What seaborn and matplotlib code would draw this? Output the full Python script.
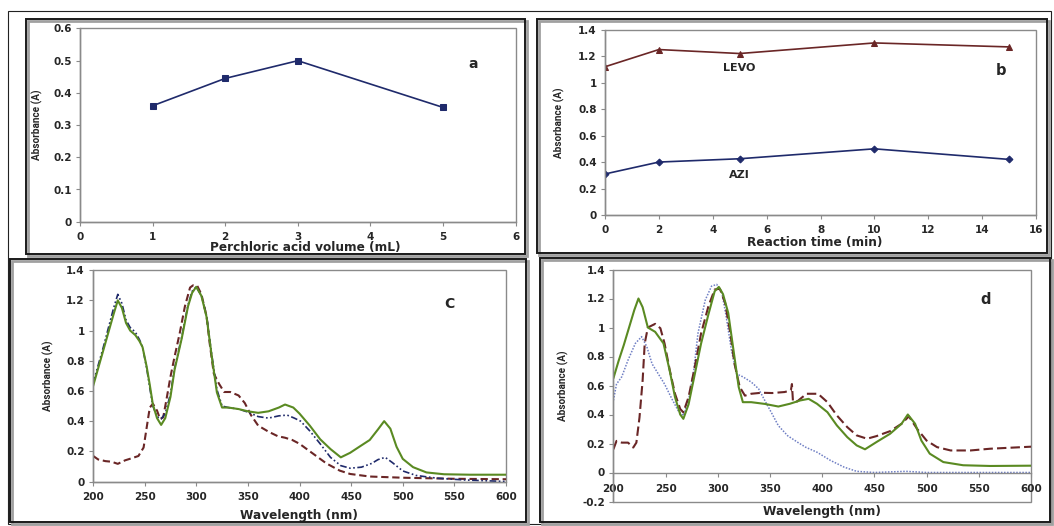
import matplotlib
matplotlib.use("Agg")
import matplotlib.pyplot as plt
from matplotlib.patches import Rectangle
from matplotlib.ticker import FuncFormatter, MultipleLocator
import seaborn as sns
import pandas as pd

# ---------------- data ----------------
# panel a
acid_volume = [1, 2, 3, 5]
acid_abs = [0.36, 0.445, 0.50, 0.355]

# panel b
time_min = [0, 2, 5, 10, 15]
levo_abs = [1.12, 1.25, 1.22, 1.30, 1.27]
azi_abs = [0.31, 0.40, 0.425, 0.50, 0.42]

# panel c spectra
c_green_nm = [200, 205, 210, 215, 220, 224, 228, 232, 236, 241, 245, 248, 252, 255, 258, 262, 266, 270, 275, 279,
              286, 292, 296, 300, 305, 310, 315, 320, 325, 331, 341, 350, 360, 370, 380, 386, 394, 400, 410, 420,
              430, 440, 449, 459, 468, 476, 482, 488, 494, 500, 510, 523, 540, 565, 600]
c_green_abs = [0.63, 0.75, 0.87, 0.99, 1.11, 1.20, 1.15, 1.05, 1.00, 0.97, 0.93, 0.89, 0.76, 0.64, 0.51, 0.42, 0.375,
               0.42, 0.56, 0.74, 0.95, 1.16, 1.25, 1.29, 1.23, 1.09, 0.83, 0.59, 0.49, 0.49, 0.48, 0.465, 0.455,
               0.465, 0.49, 0.51, 0.49, 0.45, 0.37, 0.28, 0.215, 0.16, 0.19, 0.235, 0.275, 0.345, 0.40, 0.35,
               0.23, 0.15, 0.095, 0.06, 0.048, 0.045, 0.045]

c_blue_nm = [200, 205, 210, 215, 220, 224, 228, 232, 236, 241, 245, 248, 252, 255, 258, 262, 266, 270, 275, 279,
             286, 292, 296, 300, 305, 310, 315, 320, 325, 331, 341, 350, 360, 370, 380, 388, 395, 401, 410, 420,
             430, 440, 449, 460, 470, 476, 483, 490, 500, 513, 533, 560, 600]
c_blue_abs = [0.65, 0.77, 0.89, 1.02, 1.15, 1.24, 1.18, 1.07, 1.02, 0.99, 0.94, 0.89, 0.75, 0.62, 0.50, 0.43, 0.415,
              0.45, 0.58, 0.75, 0.96, 1.17, 1.26, 1.29, 1.23, 1.10, 0.84, 0.61, 0.50, 0.49, 0.48, 0.46, 0.43,
              0.42, 0.435, 0.44, 0.42, 0.40, 0.335, 0.25, 0.16, 0.105, 0.088, 0.095, 0.12, 0.145, 0.16, 0.125,
              0.07, 0.04, 0.022, 0.01, 0.0]

c_brown_nm = [200, 205, 212, 218, 224, 231, 237, 244, 249, 252, 255, 258, 262, 265, 268, 271, 275, 279, 284, 289,
              294, 297, 301, 305, 310, 313, 317, 322, 327, 333, 341, 347, 353, 360, 370, 379, 386, 393, 400, 413,
              426, 439, 449, 468, 500, 549, 600]
c_brown_abs = [0.17, 0.146, 0.135, 0.131, 0.117, 0.14, 0.153, 0.169, 0.225, 0.358, 0.49, 0.515, 0.47, 0.414, 0.425,
               0.537, 0.693, 0.827, 0.983, 1.16, 1.285, 1.30, 1.296, 1.24, 1.095, 0.916, 0.715, 0.648, 0.593,
               0.593, 0.57, 0.52, 0.44, 0.37, 0.33, 0.30, 0.29, 0.275, 0.25, 0.185, 0.12, 0.072, 0.05, 0.033,
               0.025, 0.018, 0.015]

# panel d spectra
d_green_nm = [200, 205, 210, 215, 220, 224, 228, 233, 240, 244, 248, 254, 259, 264, 267, 272, 278, 284, 291, 297,
              301, 305, 310, 315, 320, 324, 332, 345, 358, 369, 379, 387, 395, 405, 414, 424, 433, 441, 452, 465,
              476, 482, 489, 495, 503, 516, 535, 561, 600]
d_green_abs = [0.65, 0.77, 0.88, 1.0, 1.12, 1.20, 1.14, 1.00, 0.97, 0.93, 0.89, 0.70, 0.52, 0.40, 0.37, 0.47, 0.68,
               0.89, 1.09, 1.25, 1.28, 1.23, 1.10, 0.845, 0.59, 0.485, 0.485, 0.473, 0.455, 0.474, 0.497, 0.508,
               0.474, 0.416, 0.325, 0.244, 0.187, 0.16, 0.21, 0.267, 0.336, 0.40, 0.336, 0.22, 0.13, 0.072, 0.05,
               0.045, 0.047]

d_blue_nm = [200, 203, 208, 214, 221, 227, 232, 237, 243, 249, 256, 262, 267, 272, 277, 281, 288, 294, 299, 304,
             308, 313, 318, 324, 332, 339, 345, 352, 358, 367, 377, 384, 395, 408, 421, 433, 450, 480, 500, 600]
d_blue_abs = [0.497, 0.61, 0.66, 0.775, 0.89, 0.937, 0.868, 0.75, 0.68, 0.61, 0.508, 0.427, 0.392, 0.497, 0.705,
              0.96, 1.19, 1.285, 1.297, 1.24, 1.077, 0.845, 0.68, 0.66, 0.624, 0.578, 0.497, 0.404, 0.323, 0.253,
              0.206, 0.175, 0.14, 0.083, 0.037, 0.008, 0.0, 0.008, 0.0, 0.0]

d_brown_nm = [200, 203, 208, 214, 219, 222, 225, 228, 230, 233, 240, 245, 249, 254, 259, 264, 267, 272, 278, 284,
              291, 297, 302, 307, 312, 316, 321, 326, 332, 342, 352, 364, 370, 371, 372, 376, 385, 396, 405, 414,
              424, 433, 443, 452, 465, 476, 483, 491, 500, 510, 523, 542, 561, 600]
d_brown_abs = [0.16, 0.218, 0.206, 0.206, 0.172, 0.206, 0.38, 0.636, 0.89, 1.0, 1.025, 0.995, 0.89, 0.705, 0.543,
               0.438, 0.415, 0.52, 0.73, 0.96, 1.146, 1.262, 1.267, 1.17, 0.96, 0.75, 0.59, 0.53, 0.543, 0.55,
               0.548, 0.555, 0.566, 0.61, 0.49, 0.49, 0.543, 0.543, 0.485, 0.394, 0.313, 0.256, 0.233, 0.251,
               0.285, 0.336, 0.387, 0.30, 0.22, 0.175, 0.152, 0.152, 0.164, 0.178]

# ---------------- style ----------------
sns.set_style("white")
plt.rcParams["font.family"] = ["DejaVu Sans"]
plt.rcParams["font.weight"] = "bold"
plt.rcParams["axes.labelweight"] = "bold"

NAVY = "#1f2a6b"
BROWN = "#6a2626"
GREEN = "#5a8a22"
LBLUE = "#6f7fc4"
GRAY = "#8a8a8a"

W, H = 1054, 526
fig = plt.figure(figsize=(W / 100, H / 100), dpi=100)


def px_axes(l, t, r, b):
    return fig.add_axes([l / W, 1 - b / H, (r - l) / W, (b - t) / H])


def px_rect(l, t, r, b, **kw):
    rect = Rectangle((l / W, 1 - b / H), (r - l) / W, (b - t) / H,
                     transform=fig.transFigure, fill=False, **kw)
    fig.patches.append(rect)


# panel frames
px_rect(8, 11, 1051, 524, edgecolor="#222222", linewidth=0.8)
for (l, t, r, b) in [(26, 19, 525, 254), (537, 19, 1047, 253), (10, 259, 526, 522), (540, 258, 1050, 522)]:
    px_rect(l + 2, t + 2, r + 2, b + 2, edgecolor="#a0a0a0", linewidth=2.0)
    px_rect(l, t, r, b, edgecolor="#1a1a1a", linewidth=1.4)

fmt = FuncFormatter(lambda v, p: f"{v:g}")


def style_axes(ax, xlim, ylim, xstep, ystep, ylab_x, xlab_x, xlab_y, xlabel):
    ax.set_xlim(*xlim)
    ax.set_ylim(*ylim)
    ax.xaxis.set_major_locator(MultipleLocator(xstep))
    ax.yaxis.set_major_locator(MultipleLocator(ystep))
    ax.xaxis.set_major_formatter(fmt)
    ax.yaxis.set_major_formatter(fmt)
    for s in ["top", "right"]:
        ax.spines[s].set_visible(False)
    for s in ["left", "bottom"]:
        ax.spines[s].set_color(GRAY)
        ax.spines[s].set_linewidth(1.0)
    ax.add_patch(Rectangle((0, 0), 1, 1, transform=ax.transAxes, fill=False,
                           edgecolor=GRAY, linewidth=1.0, clip_on=False, zorder=0.5))
    ax.tick_params(axis="both", direction="out", length=3, width=0.8, color=GRAY,
                   labelsize=7.5, pad=3, bottom=True, left=True)
    ax.tick_params(axis="x", pad=4.5)
    ax.set_ylabel("Absorbance (A)", fontsize=7.2, fontweight="bold", family=["Roboto", "DejaVu Sans"])
    ax.yaxis.set_label_coords(ylab_x, 0.5)
    ax.yaxis.label.set_verticalalignment("center")
    ax.set_xlabel(xlabel, fontsize=8.7, fontweight="bold")
    ax.xaxis.set_label_coords(xlab_x, xlab_y)
    ax.xaxis.label.set_verticalalignment("center")
    ax.set_facecolor("white")


# ---------------- panel a ----------------
ax_a = px_axes(80, 28.5, 515.6, 221.7)
df_a = pd.DataFrame({"vol": acid_volume, "abs": acid_abs})
sns.lineplot(data=df_a, x="vol", y="abs", ax=ax_a, color=NAVY, marker="s", markersize=5,
             markeredgecolor=NAVY, linewidth=1.2, estimator=None)
style_axes(ax_a, (0, 6), (0, 0.6), 1, 0.1, -0.099, 0.516, -0.1325, "Perchloric acid volume (mL)")
ax_a.text(5.41, 0.489, "a", fontsize=10, fontweight="bold", ha="center", va="center")

# ---------------- panel b ----------------
ax_b = px_axes(605, 29.7, 1036, 215)
df_b = pd.DataFrame({"t": time_min, "LEVO": levo_abs, "AZI": azi_abs})
sns.lineplot(data=df_b, x="t", y="LEVO", ax=ax_b, color=BROWN, marker="^", markersize=5,
             markeredgecolor=BROWN, linewidth=1.2, estimator=None)
sns.lineplot(data=df_b, x="t", y="AZI", ax=ax_b, color=NAVY, marker="D", markersize=3.5,
             markeredgecolor=NAVY, linewidth=1.2, estimator=None)
style_axes(ax_b, (0, 16), (0, 1.4), 2, 0.2, -0.105, 0.487, -0.151, "Reaction time (min)")
ax_b.text(4.97, 1.114, "LEVO", fontsize=8, fontweight="bold", ha="center", va="center")
ax_b.text(4.97, 0.299, "AZI", fontsize=8, fontweight="bold", ha="center", va="center")
ax_b.text(14.69, 1.089, "b", fontsize=10.5, fontweight="bold", ha="center", va="center")

# ---------------- panel c ----------------
ax_c = px_axes(93, 270.2, 506, 481.5)
sns.lineplot(x=c_brown_nm, y=c_brown_abs, ax=ax_c, color=BROWN, linewidth=1.5, estimator=None)
ax_c.lines[-1].set_linestyle((0, (3.5, 1.8)))
sns.lineplot(x=c_blue_nm, y=c_blue_abs, ax=ax_c, color=NAVY, linewidth=1.2, estimator=None)
ax_c.lines[-1].set_linestyle((0, (4, 1.5, 1, 1.5, 1, 1.5)))
sns.lineplot(x=c_green_nm, y=c_green_abs, ax=ax_c, color=GREEN, linewidth=1.5, estimator=None)
style_axes(ax_c, (200, 600), (0, 1.4), 50, 0.2, -0.108, 0.499, -0.159, "Wavelength (nm)")
ax_c.text(544.8, 1.176, "C", fontsize=10, fontweight="bold", ha="center", va="center")

# ---------------- panel d ----------------
ax_d = px_axes(613.4, 269.5, 1031, 501.5)
sns.lineplot(x=d_blue_nm, y=d_blue_abs, ax=ax_d, color=LBLUE, linewidth=1.1, estimator=None)
ax_d.lines[-1].set_linestyle((0, (1, 1)))
sns.lineplot(x=d_brown_nm, y=d_brown_abs, ax=ax_d, color=BROWN, linewidth=1.5, estimator=None)
ax_d.lines[-1].set_linestyle((0, (4.5, 2)))
sns.lineplot(x=d_green_nm, y=d_green_abs, ax=ax_d, color=GREEN, linewidth=1.5, estimator=None)
style_axes(ax_d, (200, 600), (-0.2, 1.4), 50, 0.2, -0.12, 0.5, -0.042, "Wavelength (nm)")
ax_d.spines["bottom"].set_position(("data", 0))
ax_d.tick_params(axis="x", pad=5)
ax_d.text(556.4, 1.19, "d", fontsize=10.5, fontweight="bold", ha="center", va="center")

fig.savefig("out.png", dpi=100, facecolor="white")
